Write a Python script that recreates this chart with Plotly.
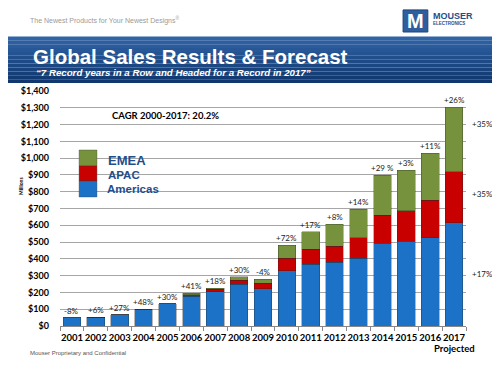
import plotly.graph_objects as go

years = [2001, 2002, 2003, 2004, 2005, 2006, 2007, 2008, 2009,
         2010, 2011, 2012, 2013, 2014, 2015, 2016, 2017]
americas = [49, 52, 67, 101, 133, 176, 205, 250, 222, 328, 369, 381, 403, 492, 506, 526, 615]
apac = [0, 0, 0, 0, 0, 10, 14, 22, 32, 75, 88, 95, 123, 169, 181, 224, 304]
emea = [0, 0, 0, 0, 0, 8, 5, 22, 26, 78, 105, 131, 171, 238, 242, 280, 383]
growth = ["-8%", "+6%", "+27%", "+48%", "+30%", "+41%", "+18%", "+30%", "-4%",
          "+72%", "+17%", "+8%", "+14%", "+29 %", "+3%", "+11%", "+26%"]
seg_labels = ["+35%", "+35%", "+17%"]
seg_label_y = [1203, 786, 310]

BLUE = "#1C72C6"
RED = "#C80000"
GREEN = "#76923C"
LEG_TXT = "#1F4E8C"
NARROW = "'Liberation Sans Narrow', 'Arial Narrow', Lato, sans-serif"
ARIAL = "'Liberation Sans', Arial, sans-serif"

fig = go.Figure()
for name, vals, col in [("Americas", americas, BLUE), ("APAC", apac, RED), ("EMEA", emea, GREEN)]:
    fig.add_trace(go.Bar(x=years, y=vals, name=name, marker_color=col,
                         marker_line=dict(color="rgba(40,40,40,0.55)", width=0.6),
                         showlegend=False))

totals = [a + b + c for a, b, c in zip(americas, apac, emea)]
for yr, tot, g in zip(years, totals, growth):
    fig.add_annotation(x=yr, y=tot, text=g, showarrow=False, yshift=7, yanchor="middle",
                       xanchor="center", font=dict(family=NARROW, size=8, color="#222"))

for t, yv in zip(seg_labels, seg_label_y):
    fig.add_annotation(xref="paper", x=1.04, y=yv, text=t, showarrow=False,
                       xanchor="center", yanchor="middle",
                       font=dict(family=NARROW, size=8, color="#222"))

shapes = []
# banner with vertical gradient (strips)
top, bot = 1.232, 1.034
n = 12
c0 = (48, 100, 165)
c1 = (16, 55, 110)
for i in range(n):
    f = i / (n - 1)
    col = "rgb(%d,%d,%d)" % tuple(int(c0[k] + (c1[k] - c0[k]) * f) for k in range(3))
    y_hi = top - (top - bot) * i / n
    y_lo = top - (top - bot) * (i + 1) / n
    shapes.append(dict(type="rect", xref="paper", yref="paper", x0=-0.14, x1=1.1,
                       y0=y_lo, y1=y_hi, fillcolor=col, line=dict(width=0), layer="below"))
# logo square
shapes.append(dict(type="rect", xref="paper", yref="paper", x0=0.845, x1=0.906,
                   y0=1.251, y1=1.345, fillcolor="#2E5E9E",
                   line=dict(color="#1E4478", width=1)))
# legend squares
for col, y1p, y0p in [(GREEN, 0.749, 0.681), (RED, 0.681, 0.617), (BLUE, 0.617, 0.549)]:
    shapes.append(dict(type="rect", xref="paper", yref="paper", x0=0.047, x1=0.091,
                       y0=y0p, y1=y1p, fillcolor=col,
                       line=dict(color="rgba(60,60,60,0.6)", width=0.6)))

fig.update_layout(shapes=shapes)

ann = [
    dict(xref="paper", yref="paper", x=-0.079, y=1.302, xanchor="left", yanchor="middle",
         text="The Newest Products for Your Newest Designs<sup>®</sup>",
         font=dict(family=ARIAL, size=7, color="#9a9a9a")),
    dict(xref="paper", yref="paper", x=0.8755, y=1.297, xanchor="center", yanchor="middle",
         text="<b>M</b>", font=dict(family=ARIAL, size=20, color="white")),
    dict(xref="paper", yref="paper", x=0.913, y=1.319, xanchor="left", yanchor="middle",
         text="<b>MOUSER</b>", font=dict(family=ARIAL, size=9, color="#1F4E8C")),
    dict(xref="paper", yref="paper", x=0.914, y=1.289, xanchor="left", yanchor="middle",
         text="<b>ELECTRONICS</b>", font=dict(family=ARIAL, size=4.5, color="#1F4E8C")),
    dict(xref="paper", yref="paper", x=-0.072, y=1.145, xanchor="left", yanchor="middle",
         text="<b>Global Sales Results &amp; Forecast</b>",
         font=dict(family=ARIAL, size=20.5, color="white")),
    dict(xref="paper", yref="paper", x=-0.064, y=1.077, xanchor="left", yanchor="middle",
         text="<b><i>\u201c7 Record years in a Row and Headed for a Record in 2017\u201d</i></b>",
         font=dict(family=ARIAL, size=9.7, color="white")),
    dict(xref="paper", yref="paper", x=0.123, y=0.894, xanchor="left", yanchor="middle",
         text="<b>CAGR 2000-2017: 20.2%</b>",
         font=dict(family="Lato, sans-serif", size=9.5, color="black")),
    dict(xref="paper", yref="paper", x=0.113, y=0.704, xanchor="left", yanchor="middle",
         text="<b>EMEA</b>", font=dict(family=ARIAL, size=13, color=LEG_TXT)),
    dict(xref="paper", yref="paper", x=0.113, y=0.643, xanchor="left", yanchor="middle",
         text="<b>APAC</b>", font=dict(family=ARIAL, size=11.5, color=LEG_TXT)),
    dict(xref="paper", yref="paper", x=0.11, y=0.584, xanchor="left", yanchor="middle",
         text="<b>Americas</b>", font=dict(family=ARIAL, size=11.5, color=LEG_TXT)),
    dict(xref="paper", yref="paper", x=-0.096, y=0.596, xanchor="center", yanchor="middle",
         text="<b>Millions</b>", textangle=-90,
         font=dict(family=NARROW, size=5, color="black")),
    dict(x=2017, yref="paper", y=-0.096, xanchor="center", yanchor="middle",
         text="<b>Projected</b>", font=dict(family=NARROW, size=9.5, color="black")),
    dict(xref="paper", yref="paper", x=-0.079, y=-0.115, xanchor="left", yanchor="middle",
         text="Mouser Proprietary and Confidential",
         font=dict(family=ARIAL, size=6, color="#555")),
]
for a in ann:
    a.setdefault("showarrow", False)
    fig.add_annotation(**a)

fig.update_layout(
    width=492, height=362,
    margin=dict(l=52, r=34, t=83, b=44, autoexpand=False),
    paper_bgcolor="white", plot_bgcolor="white",
    barmode="stack", bargap=0.26,
    showlegend=False,
    xaxis=dict(range=[2000.5, 2017.5], showgrid=False, showline=True, linecolor="#888",
               linewidth=1, ticks="", automargin=False, tickangle=0,
               ticklabelstandoff=3,
               minor=dict(ticks="outside", tick0=2000.5, dtick=1, ticklen=4,
                          tickcolor="#888", showgrid=False),
               tickfont=dict(family=NARROW, size=9.5, color="black"),
               tickvals=years, ticktext=["<b>%d</b>" % y for y in years]),
    yaxis=dict(range=[0, 1400], dtick=100, showgrid=True, gridcolor="#a6a6a6", gridwidth=1,
               tickprefix="$", tickformat=",d", zeroline=False, showline=False,
               ticklabelstandoff=10, automargin=False,
               tickfont=dict(family=NARROW, size=9, color="black", weight="bold")),
)

fig.write_html("out.html")
